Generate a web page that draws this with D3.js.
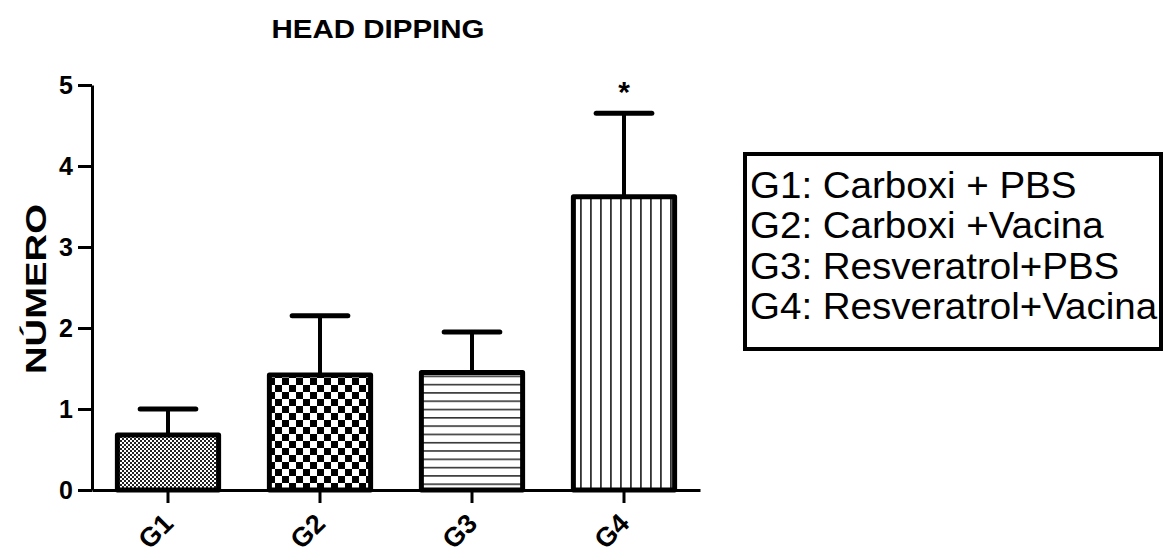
<!DOCTYPE html>
<html>
<head>
<meta charset="utf-8">
<script src="https://cdn.jsdelivr.net/npm/d3@7"></script>
<style>
  html, body { margin: 0; padding: 0; background: #fff; }
  svg { display: block; font-family: "Liberation Sans", Arial, sans-serif; }
</style>
</head>
<body>
<svg id="chart" width="1167" height="557"></svg>
<script>
const categories = ["G1", "G2", "G3", "G4"];
const means = [0.68, 1.42, 1.45, 3.62];
const errors = [0.32, 0.73, 0.50, 1.03];
const significance = ["", "", "", "*"];
const yTicks = [0, 1, 2, 3, 4, 5];
const legendLabels = ["G1: Carboxi + PBS", "G2: Carboxi +Vacina", "G3: Resveratrol+PBS", "G4: Resveratrol+Vacina"];
const chartTitle = "HEAD DIPPING";
const yTitle = "NÚMERO";

const svg = d3.select("#chart");

// patterns
const defs = svg.append("defs");
const p1 = defs.append("pattern").attr("id", "pat0").attr("patternUnits", "userSpaceOnUse")
  .attr("width", 4).attr("height", 4);
p1.append("rect").attr("width", 4).attr("height", 4).attr("fill", "#fff");
p1.append("rect").attr("x", 0).attr("y", 0).attr("width", 2).attr("height", 2).attr("fill", "#222");
p1.append("rect").attr("x", 2).attr("y", 2).attr("width", 2).attr("height", 2).attr("fill", "#222");
const p2 = defs.append("pattern").attr("id", "pat1").attr("patternUnits", "userSpaceOnUse")
  .attr("width", 14).attr("height", 14).attr("x", 268).attr("y", 0);
p2.append("rect").attr("width", 14).attr("height", 14).attr("fill", "#fff");
p2.append("rect").attr("x", 0).attr("y", 0).attr("width", 7).attr("height", 7).attr("fill", "#000");
p2.append("rect").attr("x", 7).attr("y", 7).attr("width", 7).attr("height", 7).attr("fill", "#000");
const p3 = defs.append("pattern").attr("id", "pat2").attr("patternUnits", "userSpaceOnUse")
  .attr("width", 10).attr("height", 8.3).attr("y", 2);
p3.append("rect").attr("width", 10).attr("height", 8.3).attr("fill", "#fff");
p3.append("rect").attr("x", 0).attr("y", 0).attr("width", 10).attr("height", 1.6).attr("fill", "#333");
const p4 = defs.append("pattern").attr("id", "pat3").attr("patternUnits", "userSpaceOnUse")
  .attr("width", 10).attr("height", 10).attr("x", 0);
p4.append("rect").attr("width", 10).attr("height", 10).attr("fill", "#fff");
p4.append("rect").attr("x", 0).attr("y", 0).attr("width", 1.8).attr("height", 10).attr("fill", "#333");

const x = d3.scaleBand().domain(categories).range([92, 700]).paddingInner(0.334).paddingOuter(0.167);
const y = d3.scaleLinear().domain([0, 5]).range([490, 85]);

// bars
const g = svg.append("g");
g.selectAll("rect.bar").data(categories).join("rect")
  .attr("class", "bar")
  .attr("x", d => x(d))
  .attr("y", (d, i) => y(means[i]))
  .attr("width", x.bandwidth())
  .attr("height", (d, i) => y(0) - y(means[i]))
  .attr("fill", (d, i) => `url(#pat${i})`)
  .attr("stroke", "#000")
  .attr("stroke-width", 5)
  .attr("stroke-linejoin", "round");

// error bars
const capW = x.bandwidth() * 0.55;
g.selectAll("line.err").data(categories).join("line")
  .attr("x1", d => x(d) + x.bandwidth() / 2)
  .attr("x2", d => x(d) + x.bandwidth() / 2)
  .attr("y1", (d, i) => y(means[i]))
  .attr("y2", (d, i) => y(means[i] + errors[i]))
  .attr("stroke", "#000").attr("stroke-width", 4);
g.selectAll("line.cap").data(categories).join("line")
  .attr("x1", d => x(d) + x.bandwidth() / 2 - capW / 2)
  .attr("x2", d => x(d) + x.bandwidth() / 2 + capW / 2)
  .attr("y1", (d, i) => y(means[i] + errors[i]))
  .attr("y2", (d, i) => y(means[i] + errors[i]))
  .attr("stroke", "#000").attr("stroke-width", 5).attr("stroke-linecap", "round");

// significance
g.selectAll("text.sig").data(categories).join("text")
  .attr("x", d => x(d) + x.bandwidth() / 2)
  .attr("y", (d, i) => y(means[i] + errors[i]) - 11)
  .attr("text-anchor", "middle")
  .attr("font-size", 30).attr("font-weight", "bold")
  .text((d, i) => significance[i]);

// y axis
const yAxis = svg.append("g").attr("transform", "translate(92,0)")
  .call(d3.axisLeft(y).tickValues(yTicks).tickFormat(d3.format("d")).tickSize(14).tickSizeOuter(0).tickPadding(5));
yAxis.attr("font-family", null).attr("font-size", null);
yAxis.select(".domain").attr("stroke-width", 3).attr("stroke", "#000");
yAxis.selectAll(".tick line").attr("stroke-width", 3);
yAxis.selectAll(".tick text").attr("font-size", 25).attr("font-weight", "bold")
  .attr("fill", "#000");

// x axis
const xAxis = svg.append("g").attr("transform", "translate(0,490)")
  .call(d3.axisBottom(x).tickSize(13).tickSizeOuter(0).tickPadding(0));
xAxis.attr("font-family", null).attr("font-size", null);
xAxis.select(".domain").attr("stroke-width", 3).attr("stroke", "#000");
xAxis.selectAll(".tick line").attr("stroke-width", 3);
xAxis.selectAll(".tick text")
  .attr("font-size", 27).attr("font-weight", "bold")
  .attr("fill", "#000")
  .attr("text-anchor", "end")
  .attr("x", 0).attr("y", 0)
  .attr("dy", 0)
  .attr("transform", "translate(7,35) rotate(-45)");

// title
svg.append("text").attr("x", 378).attr("y", 38).attr("text-anchor", "middle")
  .attr("font-size", 25).attr("font-weight", "bold")
  .attr("textLength", 213).attr("lengthAdjust", "spacingAndGlyphs")
  .text(chartTitle);

// y title
svg.append("text").attr("transform", "translate(46,289) rotate(-90)")
  .attr("text-anchor", "middle")
  .attr("font-size", 29).attr("font-weight", "bold")
  .attr("textLength", 170).attr("lengthAdjust", "spacingAndGlyphs")
  .text(yTitle);

// legend
const lg = svg.append("g");
lg.append("rect").attr("x", 745).attr("y", 154).attr("width", 416).attr("height", 195)
  .attr("fill", "#fff").attr("stroke", "#000").attr("stroke-width", 4);
lg.selectAll("text").data(legendLabels).join("text")
  .attr("x", 750)
  .attr("y", (d, i) => 198 + i * 40.3)
  .attr("font-size", 36)
  .attr("fill", "#000")
  .text(d => d)
  .each(function () {
    const w = this.getComputedTextLength();
    d3.select(this).attr("textLength", w * 1.07).attr("lengthAdjust", "spacingAndGlyphs");
  });
</script>
</body>
</html>
